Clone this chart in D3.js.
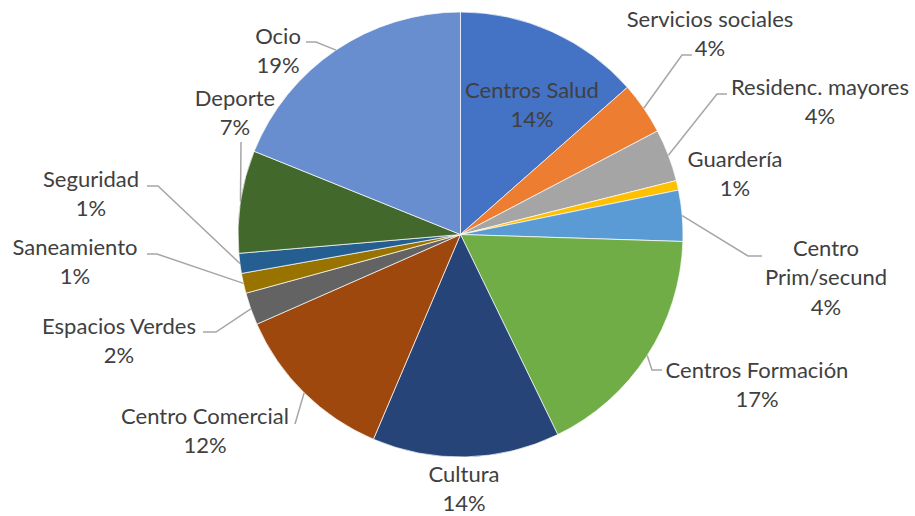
<!DOCTYPE html>
<html><head><meta charset="utf-8">
<script src="https://cdn.jsdelivr.net/npm/d3@7"></script>
<style>body{margin:0;background:#fff}svg{display:block}</style>
</head><body>
<svg id="c" width="915" height="516"></svg>
<script>
const categories = ["Centros Salud","Servicios sociales","Residenc. mayores","Guardería","Centro Prim/secund","Centros Formación","Cultura","Centro Comercial","Espacios Verdes","Saneamiento","Seguridad","Deporte","Ocio"];
const values = [13.5,3.8,3.8,0.7,3.7,17.3,13.6,12.0,2.35,1.45,1.45,7.45,18.9];
const colors = ["#4472C4","#ED7D31","#A5A5A5","#FFC000","#5B9BD5","#70AD47","#264478","#9E480E","#636363","#997300","#255E91","#43682B","#698ED0"];
// label line breaks
const labelLines = [["Centros Salud"],["Servicios sociales"],["Residenc. mayores"],["Guardería"],["Centro","Prim/secund"],["Centros Formación"],["Cultura"],["Centro Comercial"],["Espacios Verdes"],["Saneamiento"],["Seguridad"],["Deporte"],["Ocio"]];
// layout: label centre and leader elbow/end points (null = no leader)
const layout = [
 {x:532,y:90,leader:null},
 {x:710,y:19,leader:[[682,55],[692,55]]},
 {x:820,y:87,leader:[[717,94],[727,94]]},
 {x:735,y:159,leader:null},
 {x:826,y:248,leader:[[748,256],[762,256]]},
 {x:757,y:370,leader:[[652,370],[662,370]]},
 {x:464,y:474,leader:null},
 {x:205,y:416,leader:[[295,424]]},
 {x:119,y:326,leader:[[216,332],[203,332]]},
 {x:75,y:247,leader:[[157,254],[147,254]]},
 {x:91,y:179,leader:[[158,186],[147,186]]},
 {x:235,y:98,leader:[[241,142]]},
 {x:278,y:36,leader:[[316,42],[306,42]]}
];

const cx=460.5, cy=234.5, R=222.5;
const svg=d3.select("#c");
const g=svg.append("g").attr("transform",`translate(${cx},${cy})`);
const total=d3.sum(values);
const pie=d3.pie().sort(null).value(d=>d)(values);
const arc=d3.arc().innerRadius(0).outerRadius(R);
g.selectAll("path.s").data(pie).join("path").attr("class","s")
 .attr("d",arc).attr("fill",(d,i)=>colors[i]).attr("stroke","#fff").attr("stroke-width",0.7);

// leaders
pie.forEach((d,i)=>{
  const L=layout[i]; if(!L.leader) return;
  const a=(d.startAngle+d.endAngle)/2;
  const p0=[cx+R*Math.sin(a), cy-R*Math.cos(a)];
  const pts=[p0,...L.leader];
  svg.append("path").attr("d",d3.line()(pts)).attr("fill","none")
   .attr("stroke","#A6A6A6").attr("stroke-width",1.5);
});

// labels
const fmt=v=>Math.round(v/total*100)+"%";
const lh=29.5;
pie.forEach((d,i)=>{
  const L=layout[i];
  const lines=[...labelLines[i], fmt(values[i])];
  const t=svg.append("text").attr("text-anchor","middle")
   .attr("font-family","Lato, 'Open Sans', sans-serif").attr("font-size",22)
   .attr("fill","#404040");
  lines.forEach((s,k)=>{
    t.append("tspan").attr("x",L.x).attr("y",L.y-1+k*lh).attr("dominant-baseline","central").text(s);
  });
});
</script>
</body></html>
